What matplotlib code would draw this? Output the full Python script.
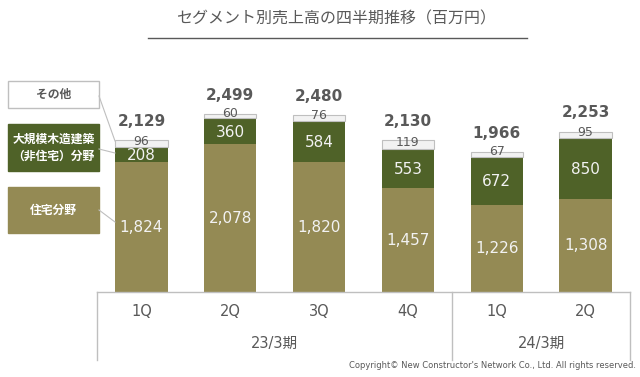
import matplotlib
matplotlib.use("Agg")
import matplotlib.pyplot as plt
import numpy as np

plt.rcParams['font.family'] = ['DejaVu Sans', 'Noto Sans CJK JP']

quarters = ["1Q", "2Q", "3Q", "4Q", "1Q", "2Q"]
periods = ["23/3期", "24/3期"]
period_sizes = [4, 2]
housing = [1824, 2078, 1820, 1457, 1226, 1308]
large_wood = [208, 360, 584, 553, 672, 850]
other = [96, 60, 76, 119, 67, 95]
totals = [2129, 2499, 2480, 2130, 1966, 2253]
series_names = ["住宅分野", "大規模木造建築\n（非住宅）分野", "その他"]

c_housing = "#948A54"
c_wood = "#4F6228"
c_other = "#F2F2F2"
grey = "#595959"
line_c = "#BFBFBF"

W, H = 640, 377
fig = plt.figure(figsize=(6.4, 3.77), dpi=100)

def fx(x):
    return x / W

def fy(y):
    return 1 - y / H

# axes: x from 97px to 630px, y bottom 292px
ax = fig.add_axes([fx(97), fy(292), fx(630) - fx(97), fy(40) - fy(292)])
px_per_unit = 0.0712
ymax = (292 - 40) / px_per_unit
ax.set_xlim(-0.5, 5.5)
ax.set_ylim(0, ymax)
ax.axis("off")

x = np.arange(len(quarters))
bw = 0.59
ax.bar(x, housing, bw, color=c_housing, zorder=2)
b2 = np.array(housing)
ax.bar(x, large_wood, bw, bottom=b2, color=c_wood, zorder=2)
b3 = b2 + np.array(large_wood)
ax.bar(x, other, bw, bottom=b3, color=c_other, edgecolor=line_c, linewidth=0.8, zorder=2)

unit = 1 / px_per_unit
for i in range(len(x)):
    ax.text(x[i], housing[i] / 2, f"{housing[i]:,}", ha="center", va="center",
            color="#F2F2F2", fontsize=11, zorder=3)
    ax.text(x[i], b2[i] + large_wood[i] / 2 - 1 * unit, f"{large_wood[i]:,}", ha="center", va="center",
            color="#F2F2F2", fontsize=11, zorder=3)
    ax.text(x[i], b3[i] + other[i] / 2 + 2.5 * unit, f"{other[i]:,}", ha="center", va="center",
            color=grey, fontsize=9, zorder=3)
    ax.text(x[i], b3[i] + other[i] + 19 * unit, f"{totals[i]:,}", ha="center", va="center",
            color=grey, fontsize=11, fontweight="bold", zorder=3)

# category axis with group separators
ax.plot([-0.5, 5.5], [0, 0], color=line_c, lw=1, clip_on=False)
bottom_y = -68 * unit
for xv in [-0.5, 3.5, 5.5]:
    ax.plot([xv, xv], [0, bottom_y], color=line_c, lw=1, clip_on=False)
for i, q in enumerate(quarters):
    ax.text(x[i], -20 * unit, q, ha="center", va="center", color=grey, fontsize=10.5)
start = 0
for p, n in zip(periods, period_sizes):
    ax.text(start + (n - 1) / 2, -51 * unit, p, ha="center", va="center", color=grey, fontsize=10.5)
    start += n

# title with underline
fig.text(fx(336), fy(19), "セグメント別売上高の四半期推移（百万円）", ha="center", va="center",
         color=grey, fontsize=11.5)
fig.add_artist(plt.Line2D([fx(148), fx(527)], [fy(38), fy(38)], color=grey, lw=1))

# legend boxes at the left
boxes = [
    (81, 108, c_other, grey, series_names[2], (99, 96), (115, 141)),
    (124, 171, c_wood, "white", series_names[1], (99, 149), (115, 153)),
    (187, 233, c_housing, "white", series_names[0], (99, 210), (115, 222)),
]
for top, bot, fc, tc, label, p0, p1 in boxes:
    edge = line_c if fc == c_other else fc
    fig.add_artist(plt.Rectangle((fx(8), fy(bot)), fx(99) - fx(8), fy(top) - fy(bot),
                                 facecolor=fc if fc != c_other else "white", edgecolor=edge, lw=1))
    fig.text(fx(53.5), fy((top + bot) / 2), label, ha="center", va="center", color=tc,
             fontsize=8.5, fontweight="bold", linespacing=1.4)
    fig.add_artist(plt.Line2D([fx(p0[0]), fx(p1[0])], [fy(p0[1]), fy(p1[1])], color=line_c, lw=0.8))

fig.text(fx(636), fy(366), "Copyright© New Constructor's Network Co., Ltd. All rights reserved.",
         ha="right", va="center", color=grey, fontsize=6)

fig.savefig("out.png", dpi=100)
